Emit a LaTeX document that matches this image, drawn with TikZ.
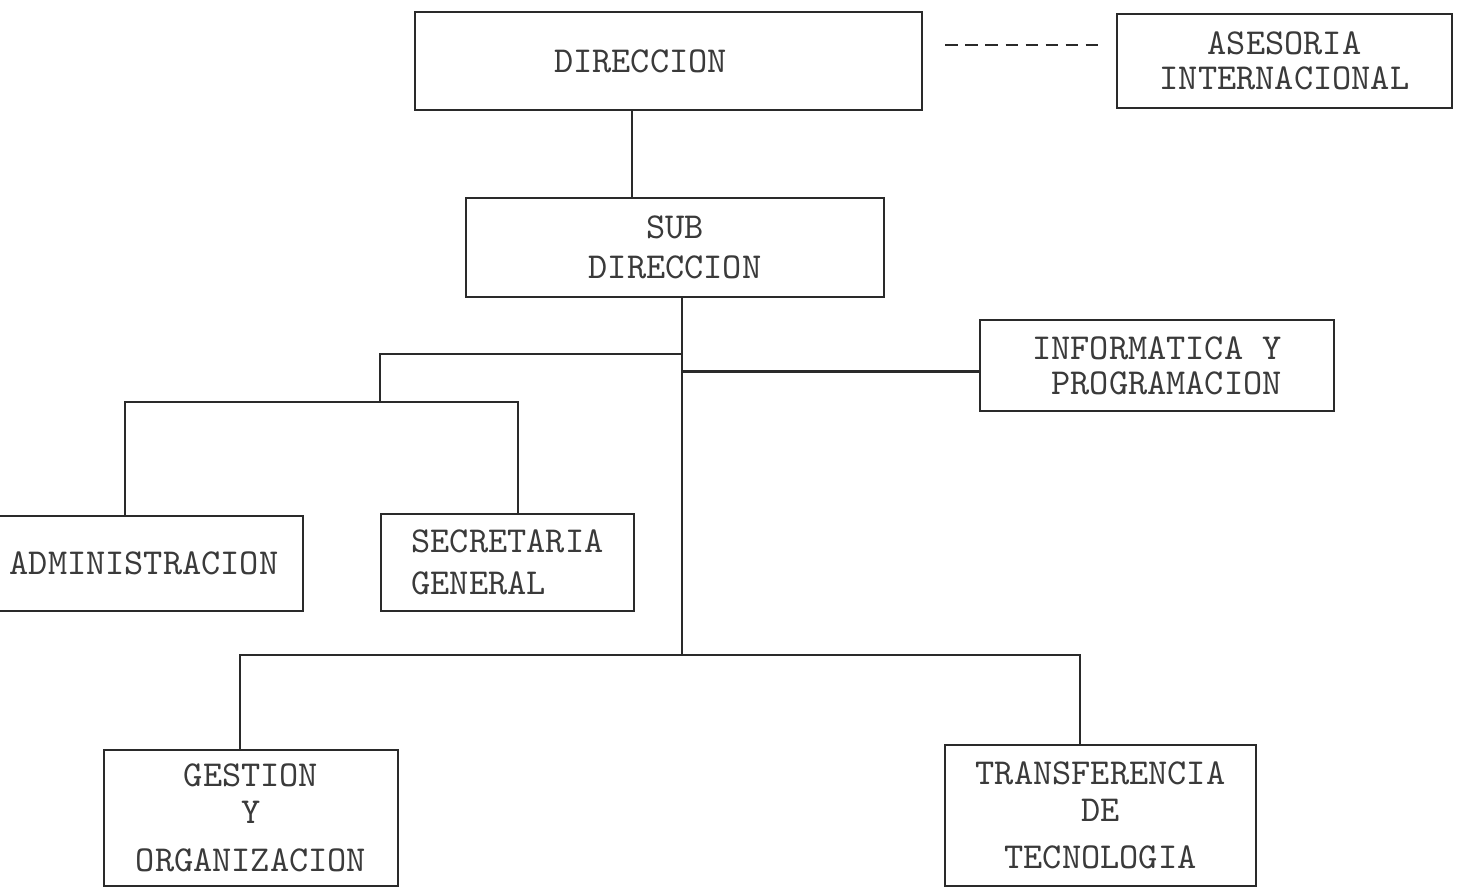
\documentclass[tikz,border=0pt]{standalone}
\usepackage{tikz}
\usetikzlibrary{positioning, calc}
\definecolor{inkline}{HTML}{2A2A2A}
\definecolor{inktext}{HTML}{3A3A3A}

\begin{document}
\begin{tikzpicture}[
  orgbox/.style={draw=inkline, line width=0.8pt, inner sep=0pt, align=center,
    font=\fontsize{10.4}{12}\selectfont\ttfamily, text=inktext},
  link/.style={draw=inkline, line width=0.8pt}
]
  \useasboundingbox (0,0) rectangle (14.65,8.89);

  % Top level
  \node[orgbox, minimum width=5.07cm, minimum height=0.98cm] (dir)
    at (6.685, 8.28) {DIRECCION\hspace*{5.6mm}};
  \node[orgbox, minimum width=3.35cm, minimum height=0.94cm] (ase)
    at (12.845, 8.28) {ASESORIA\\[-2pt]INTERNACIONAL};
  \node[orgbox, minimum width=4.18cm, minimum height=0.99cm] (sub)
    at (6.75, 6.415) {SUB\\[-0.7pt]DIRECCION};
  \node[orgbox, align=right, minimum width=3.54cm, minimum height=0.91cm] (info)
    at (11.57, 5.235) {INFORMATICA Y\\[-2pt]PROGRAMACION};

  % Middle level
  \node[orgbox, minimum width=3.18cm, minimum height=0.95cm] (adm)
    at (1.44, 3.255) {ADMINISTRACION};
  \node[orgbox, align=left, minimum width=2.53cm, minimum height=0.97cm] (sec)
    at (5.075, 3.265) {SECRETARIA\\GENERAL};

  % Bottom level
  \node[orgbox, minimum width=2.94cm, minimum height=1.36cm] (ges)
    at (2.51, 0.71) {GESTION\\[-1.5pt]Y\\[1.5pt]ORGANIZACION};
  \node[orgbox, minimum width=3.11cm, minimum height=1.41cm] (tra)
    at (11.005, 0.735) {TRANSFERENCIA\\[-1.5pt]DE\\[1.5pt]TECNOLOGIA};

  % Tap points of the connectors
  \coordinate (dirtap) at (6.32, 0);
  \coordinate (spine) at (6.82, 2.34);
  \coordinate (leftfork) at (3.80, 5.35);
  \coordinate (leftbar) at (3.80, 4.87);
  \coordinate (admtap) at (1.25, 4.87);
  \coordinate (sectap) at (5.18, 4.87);
  \coordinate (gestap) at (2.40, 2.34);
  \coordinate (tratap) at (10.80, 2.34);

  % Connectors
  \draw[link] (dir.south -| dirtap) -- (sub.north -| dirtap);
  \draw[link, dash pattern=on 3.5pt off 2.2pt]
    ([shift={(0.22,0.16)}]dir.east) -- ([shift={(-0.17,0.16)}]ase.west);
  \draw[link] (sub.south -| spine) -- (spine);
  \draw[link] ([yshift=-0.06cm]info.west) -- ([yshift=-0.06cm]info.west -| spine);
  \draw[link] (leftfork -| spine) -- (leftfork) -- (leftbar);
  \draw[link] (adm.north -| admtap) -- (admtap) -- (sectap) -- (sec.north -| sectap);
  \draw[link] (ges.north -| gestap) -- (gestap) -- (tratap) -- (tra.north -| tratap);
\end{tikzpicture}
\end{document}
